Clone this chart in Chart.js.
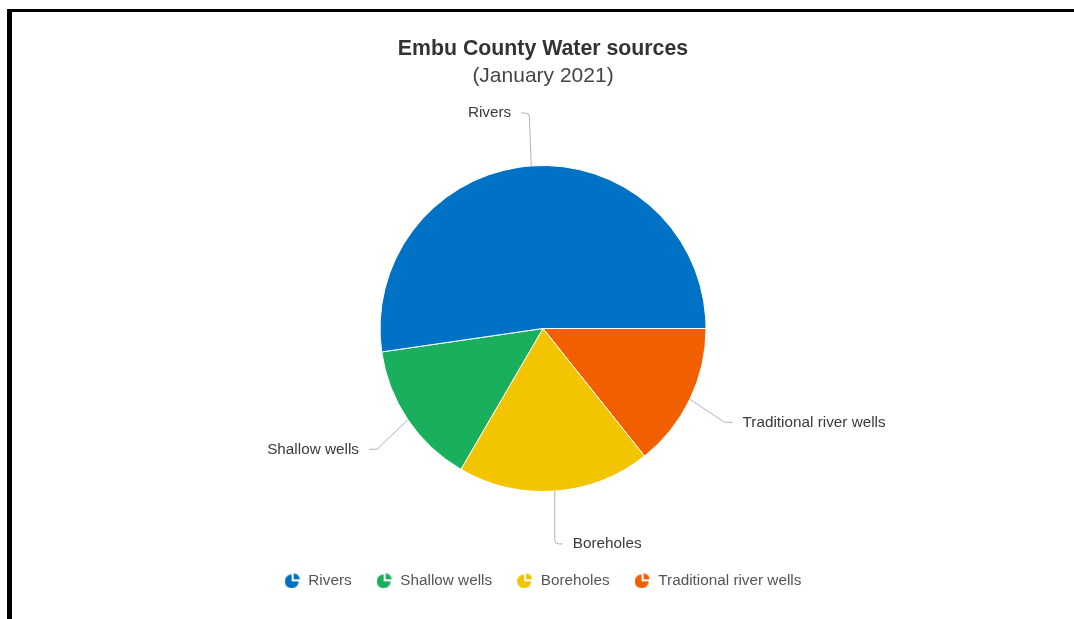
<!DOCTYPE html>
<html>
<head>
<meta charset="utf-8">
<script src="https://cdn.jsdelivr.net/npm/chart.js@4.4.0/dist/chart.umd.min.js"></script>
<style>
  html, body { margin: 0; padding: 0; background: #fff; }
  #quadro { position: absolute; left: 7px; top: 9px; width: 1062px; height: 607px; border-left: 5px solid #000; border-top: 3px solid #000; }
  #quadro canvas { display: block; }
</style>
</head>
<body>
<div id="quadro"><canvas id="grafico" width="1062" height="607"></canvas></div>
<script>
// ============================
// Dados
// ============================
const categorias = ["Rivers", "Shallow wells", "Boreholes", "Traditional river wells"];
const valores = [52.3, 14.3, 19.1, 14.3];
const cores = ["#0072c6", "#1aaf5d", "#f2c500", "#f15f00"];

const fonte = "'Liberation Sans', Arial, Helvetica, sans-serif";
Chart.defaults.font.family = fonte;

// ============================
// Ícone de pizza da legenda
// ============================
function iconePizza(cor) {
  const c = document.createElement("canvas");
  c.width = 16;
  c.height = 16;
  const g = c.getContext("2d");
  g.fillStyle = cor;
  g.beginPath();
  g.moveTo(7, 9);
  g.arc(7, 9, 7, 0, 1.5 * Math.PI);
  g.closePath();
  g.fill();
  g.beginPath();
  g.moveTo(9, 7);
  g.arc(9, 7, 6, 1.5 * Math.PI, 2 * Math.PI);
  g.closePath();
  g.fill();
  return c;
}

// ============================
// Rótulos com linhas de ligação
// ============================
const rotulosPizza = {
  id: "rotulosPizza",
  afterDatasetsDraw(chart) {
    const ctx = chart.ctx;
    const meta = chart.getDatasetMeta(0);
    ctx.save();
    ctx.font = "15.3px " + fonte;
    ctx.textBaseline = "middle";
    meta.data.forEach((arc, i) => {
      const { x, y, startAngle, endAngle, outerRadius } =
        arc.getProps(["x", "y", "startAngle", "endAngle", "outerRadius"], true);
      const meio = (startAngle + endAngle) / 2;
      const cos = Math.cos(meio), sin = Math.sin(meio);
      const lado = cos >= 0 ? 1 : -1;
      const R = outerRadius + 53;
      const ly = y + sin * R;
      const toque = { x: x + cos * outerRadius, y: y + sin * outerRadius };
      let tx = x + lado * (Math.abs(cos) * R + 5);
      // garante um pequeno trecho horizontal quando o rótulo fica em cima/baixo
      tx = lado > 0 ? Math.max(tx, toque.x + 18) : Math.min(tx, toque.x - 20);
      const ex = tx - lado * 10;
      let cx = ex - lado * 8;
      cx = lado > 0 ? Math.max(cx, toque.x) : Math.min(cx, toque.x);

      ctx.strokeStyle = "#aab4be";
      ctx.lineWidth = 1;
      ctx.beginPath();
      ctx.moveTo(ex, ly);
      ctx.arcTo(cx, ly, toque.x, toque.y, 4);
      ctx.lineTo(toque.x, toque.y);
      ctx.stroke();

      ctx.fillStyle = "#3a3a3a";
      ctx.textAlign = lado > 0 ? "left" : "right";
      ctx.fillText(chart.data.labels[i], tx, ly);
    });
    ctx.restore();
  }
};

// ============================
// Gráfico
// ============================
const ctx = document.getElementById("grafico").getContext("2d");
new Chart(ctx, {
  type: "pie",
  data: {
    labels: categorias.slice().reverse(),
    datasets: [{
      data: valores.slice().reverse(),
      backgroundColor: cores.slice().reverse(),
      borderColor: "#ffffff",
      borderWidth: 1,
      radius: 163
    }]
  },
  options: {
    responsive: false,
    animation: false,
    rotation: 90,
    layout: { padding: { bottom: 21 } },
    plugins: {
      title: {
        display: true,
        text: "Embu County Water sources",
        color: "#333",
        font: { size: 21.3, weight: "bold" },
        padding: { top: 24, bottom: 0 }
      },
      subtitle: {
        display: true,
        text: "(January 2021)",
        color: "#444",
        font: { size: 21, weight: "normal" },
        padding: { top: 2, bottom: 20.5 }
      },
      legend: {
        position: "bottom",
        labels: {
          usePointStyle: true,
          pointStyleWidth: 16,
          padding: 25,
          color: "#555",
          font: { size: 15.3 },
          generateLabels: () => categorias.map((c, i) => ({
            text: c,
            fillStyle: cores[i],
            strokeStyle: cores[i],
            fontColor: "#555",
            lineWidth: 0,
            pointStyle: iconePizza(cores[i]),
            hidden: false,
            index: i
          }))
        }
      },
      tooltip: { enabled: false }
    }
  },
  plugins: [rotulosPizza]
});
</script>
</body>
</html>
